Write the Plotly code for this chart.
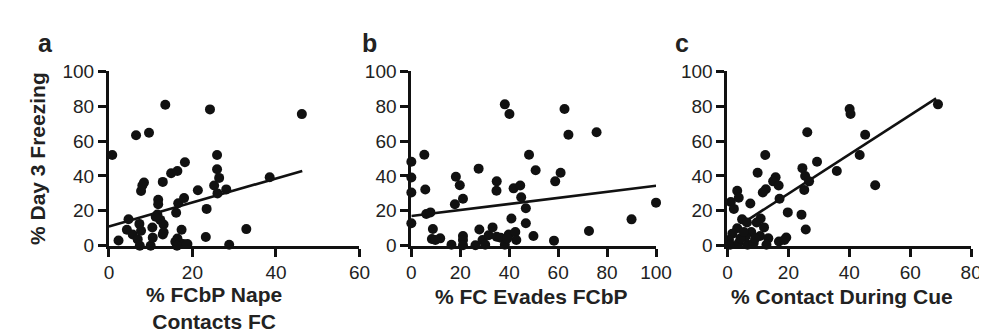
import plotly.graph_objects as go

# Panel a: % FCbP Nape Contacts FC vs % Day 3 Freezing
a_x = [0.8, 2.3, 4.7, 4.3, 5.7, 6.5, 9.6, 6.9, 7.4, 7.3, 7.7, 7.7, 8.4, 8.0, 10.0, 10.4, 10.5,
       11.8, 11.8, 11.6, 12.3, 13.1, 12.9, 12.9, 13.5, 14.9, 16.4, 18.2, 16.1, 16.6, 18.0, 17.4,
       16.4, 15.9, 17.0, 17.8, 18.8, 16.3, 21.3, 23.4, 23.2, 24.2, 25.9, 25.9, 26.4, 25.2, 26.0,
       28.1, 28.8, 32.9, 38.5, 46.2, 11.2, 13.1]
a_y = [52, 3, 15.2, 9.1, 6.4, 63.4, 64.8, 3.6, 0, 12.5, 8.6, 31.4, 36.3, 34.5, 0, 10.4, 4.6,
       26.4, 23.8, 17.9, 14.8, 12.1, 6.4, 36.6, 80.9, 41.6, 42.9, 47.9, 18.9, 24.3, 27.3, 9.1,
       4.1, 2.3, 1.4, 0.9, 0.9, 0, 31.8, 21.1, 5, 78.2, 52, 43.9, 38.9, 34.5, 30,
       32.3, 0.5, 9.5, 39.3, 75.5, 16.6, 7.7]
a_fit_x = [0, 46.3]
a_fit_y = [11, 42.9]

# Panel b: % FC Evades FCbP
b_x = [0, 0, 0, 0, 5.3, 5.7, 6.1, 7.8, 8.8, 8.4, 11.8, 9.8, 16.4, 18.2, 19.8, 21.1, 17.8, 21.1,
       21.1, 21.1, 26.2, 27.8, 27.5, 29.1, 30.2, 31.6, 33.2, 34.9, 34.9, 34.8, 36.5, 38.2, 38.2,
       40.1, 39.8, 40.9, 41.8, 44.5, 44.9, 42.5, 42.9, 46.8, 46.8, 48.1, 49.9, 50.8, 58.3, 58.8,
       61.0, 62.6, 64.2, 72.6, 75.7, 90.0, 100.0, 39.2]
b_y = [48.2, 39.1, 30.5, 12.9, 52.2, 32.2, 18.2, 19.1, 9.6, 3.8, 4.2, 3.3, 0.5, 39.6, 34.7, 26.9,
       23.8, 5.6, 3.3, 0.2, 0.2, 9.3, 44.2, 3.3, 0.5, 6, 10.5, 5.1, 36.9, 31.5, 4.5, 0.5, 81.1,
       75.6, 6.4, 15.6, 32.9, 34.5, 27.8, 7.8, 3.3, 21.5, 12.9, 52.2, 5.6, 43.3, 2.9, 36.9,
       41.8, 78.4, 63.6, 8.4, 65.1, 15.1, 24.7, 4.2]
b_fit_x = [0, 100]
b_fit_y = [17, 34.4]

# Panel c: % Contact During Cue
c_x = [69.1, 40.1, 40.4, 26.2, 45.2, 43.4, 12.4, 29.4, 24.6, 35.9, 9.9, 25.5, 15.8, 26.8, 15.0,
       16.8, 48.5, 12.6, 11.6, 25.2, 3.2, 3.7, 17.1, 1.1, 2.1, 7.5, 19.8, 24.3, 4.8, 10.9, 6.4,
       9.6, 12.0, 25.7, 3.2, 1.6, 7.8, 10.7, 13.4, 19.3, 16.9, 0.5, 0.9, 3.7, 6.6, 8.6, 9.1,
       12.8, 5.9, 4.3, 18.7, 5.4]
c_y = [81.1, 78.4, 75.6, 65.1, 63.6, 52, 52, 48.2, 44.5, 42.9, 41.8, 40, 39.3, 36.9, 36.9,
       34.5, 34.7, 32.4, 30.5, 32, 31.5, 27.5, 26.9, 25.1, 21.1, 24.2, 19.1, 17.8, 15.1, 15.6,
       13.3, 13.3, 10.5, 9.3, 10, 6.9, 7.8, 5.6, 4.2, 4.7, 2.4, 3.3, 0.5, 1.5, 0.5, 1.5, 4.2,
       0.5, 5.1, 4.2, 3.3, 7.8]
c_fit_x = [4.8, 68.5]
c_fit_y = [12.7, 84.5]

y_ticks = [0, 20, 40, 60, 80, 100]
a_ticks = [0, 20, 40, 60]
b_ticks = [0, 20, 40, 60, 80, 100]
c_ticks = [0, 20, 40, 60, 80]

W, H = 987, 333
INK = "#111111"
TXT = "#222222"
FONT = "Liberation Sans, Arial, sans-serif"

def px_x(p):
    return p / W

def px_y(p):
    return 1 - p / H

fig = go.Figure()
panels = [
    (a_x, a_y, a_fit_x, a_fit_y, "x", "y"),
    (b_x, b_y, b_fit_x, b_fit_y, "x2", "y2"),
    (c_x, c_y, c_fit_x, c_fit_y, "x3", "y3"),
]
for xs, ys, fx, fy, xa, ya in panels:
    fig.add_trace(go.Scatter(x=fx, y=fy, mode="lines", xaxis=xa, yaxis=ya,
                             line=dict(color=INK, width=2.6), showlegend=False,
                             cliponaxis=False, hoverinfo="skip"))
    fig.add_trace(go.Scatter(x=xs, y=ys, mode="markers", xaxis=xa, yaxis=ya,
                             marker=dict(color=INK, size=10, line=dict(width=0)),
                             showlegend=False, cliponaxis=False))

ydom = [px_y(243), px_y(57)]
xdoms = [[px_x(98), px_x(354)], [px_x(407), px_x(657)], [px_x(730), px_x(979)]]
xranges = [[0, 60], [0, 100], [0, 80]]
xticks = [a_ticks, b_ticks, c_ticks]

common_axis = dict(showline=True, linewidth=3, linecolor=INK, ticks="outside", ticklen=8,
                   tickwidth=3, tickcolor=INK, showgrid=False, zeroline=False,
                   tickfont=dict(family=FONT, size=19, color=TXT))

layout = dict(width=W, height=H, margin=dict(l=0, r=0, t=0, b=0),
              plot_bgcolor="white", paper_bgcolor="white", showlegend=False)
for i in range(3):
    sx = "" if i == 0 else str(i + 1)
    layout["xaxis" + sx] = dict(common_axis, domain=xdoms[i], range=xranges[i],
                                tickvals=xticks[i], anchor="y" + sx)
    layout["yaxis" + sx] = dict(common_axis, domain=ydom, range=[0, 100],
                                tickvals=y_ticks, anchor="x" + sx)
fig.update_layout(**layout)

ann = []
bold = dict(family=FONT, size=21, color=TXT)
for txt, xp in [("a", 33), ("b", 364), ("c", 684)]:
    ann.append(dict(text="<b>%s</b>" % txt, x=px_x(xp), y=px_y(27), xref="paper", yref="paper",
                    showarrow=False, font=dict(family=FONT, size=25, color=TXT),
                    xanchor="center", yanchor="middle"))
ann.append(dict(text="<b>% Day 3 Freezing</b>", x=px_x(25), y=px_y(150), xref="paper",
                yref="paper", showarrow=False, textangle=-90, font=bold,
                xanchor="center", yanchor="middle"))
ann.append(dict(text="<b>% FCbP Nape</b><br><b>Contacts FC</b>", x=px_x(205), y=px_y(309),
                xref="paper", yref="paper", showarrow=False, font=bold, align="center",
                xanchor="center", yanchor="middle", borderpad=0))
ann.append(dict(text="<b>% FC Evades FCbP</b>", x=px_x(530), y=px_y(297), xref="paper",
                yref="paper", showarrow=False, font=bold, xanchor="center", yanchor="middle"))
ann.append(dict(text="<b>% Contact During Cue</b>", x=px_x(847), y=px_y(297), xref="paper",
                yref="paper", showarrow=False, font=bold, xanchor="center", yanchor="middle"))
fig.update_layout(annotations=ann)

fig.write_html("out.html")
